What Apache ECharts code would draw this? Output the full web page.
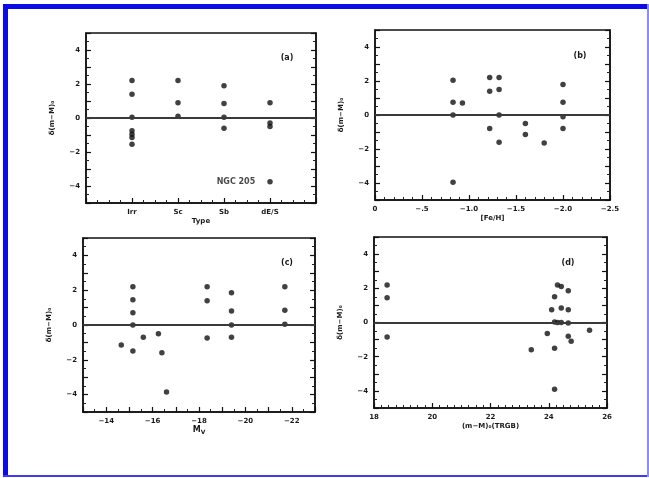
<!DOCTYPE html>
<html>
<head>
<meta charset="utf-8">
<script src="https://cdn.jsdelivr.net/npm/echarts@6/dist/echarts.min.js"></script>
<style>
  html, body { margin: 0; padding: 0; background: #fff; }
  #wrap { position: relative; width: 649px; height: 478px; overflow: hidden; }
  #chart { position: absolute; left: 0; top: 0; width: 649px; height: 478px; }
  .edge { position: absolute; background: #0b0be8; pointer-events: none; }
</style>
</head>
<body>
<div id="wrap">
  <div id="chart"></div>
  <div class="edge" style="left:3px;top:4px;width:646px;height:5px;"></div>
  <div class="edge" style="left:3px;top:4px;width:5px;height:473px;"></div>
  <div class="edge" style="left:3px;top:475px;width:646px;height:2px;background:#3b3bf0;"></div>
  <div class="edge" style="left:647px;top:4px;width:2px;height:473px;background:#8c8cf5;"></div>
</div>
<script>
// Residual distance modulus versus galaxy properties, four panels

// shared y axis labels (only even values carry a label)
const yTicks = [4, 2, 0, -2, -4];
const yTickLabels = ['4', '2', '0', '−2', '−4'];

// (a) morphological type
const typeNames = ['Irr', 'Sc', 'Sb', 'dE/S'];
const aType = [1, 1, 1, 1, 1, 1, 1, 2, 2, 2, 3, 3, 3, 3, 4, 4, 4, 4];
const aDm   = [2.2, 1.4, 0.05, -0.75, -0.95, -1.15, -1.55, 2.2, 0.9, 0.1, 1.9, 0.85, 0.05, -0.6, 0.9, -0.3, -0.5, -3.75];
const aNote = ['', '', '', '', '', '', '', '', '', '', '', '', '', '', '', '', '', 'NGC 205'];

// (b) metallicity [Fe/H]
const bFeH = [-0.83, -0.83, -0.83, -0.83, -0.93, -1.22, -1.22, -1.22, -1.32, -1.32, -1.32, -1.32, -1.6, -1.6, -1.8, -2.0, -2.0, -2.0, -2.0];
const bDm  = [2.05, 0.75, 0, -3.95, 0.7, 2.2, 1.4, -0.8, 2.2, 1.5, 0, -1.6, -0.5, -1.15, -1.65, 1.8, 0.75, -0.1, -0.8];
const bTicks = [0, -0.5, -1.0, -1.5, -2.0, -2.5];
const bTickLabels = ['0', '−.5', '−1.0', '−1.5', '−2.0', '−2.5'];

// (c) absolute magnitude M_V
const cMv = [-14.65, -15.15, -15.15, -15.15, -15.15, -15.15, -15.6, -16.25, -16.4, -16.6, -18.35, -18.35, -18.35, -19.4, -19.4, -19.4, -19.4, -21.7, -21.7, -21.7];
const cDm = [-1.15, 2.2, 1.45, 0.7, 0, -1.5, -0.7, -0.5, -1.6, -3.85, 2.2, 1.4, -0.75, 1.85, 0.8, 0, -0.7, 2.2, 0.85, 0.05];
const cTicks = [-14, -16, -18, -20, -22];
const cTickLabels = ['−14', '−16', '−18', '−20', '−22'];

// (d) TRGB distance modulus
const dMod = [18.45, 18.45, 18.45, 23.4, 23.95, 24.1, 24.2, 24.2, 24.2, 24.2, 24.3, 24.3, 24.43, 24.43, 24.43, 24.67, 24.67, 24.67, 24.67, 24.77, 25.4];
const dDm  = [2.2, 1.45, -0.85, -1.6, -0.65, 0.75, -1.5, 1.5, -3.9, 0.03, 2.2, 0, 2.1, 0.85, 0, 1.85, 0.75, -0.03, -0.8, -1.1, -0.45];
const dTicks = [18, 20, 22, 24, 26];
const dTickLabels = ['18', '20', '22', '24', '26'];

const yName = 'δ(m−M)₀';
const font = 'DejaVu Sans';
const ink = '#1a1a1a';

const panels = [
  { grid: { left: 86, top: 33, width: 230, height: 170 },
    x: { min: 0, max: 5, interval: 1, minorSplit: 4, inverse: false, ticks: [1, 2, 3, 4], labels: typeNames, name: 'Type' },
    tag: '(a)', tagPos: [287, 58],
    xs: aType, ys: aDm, notes: aNote },
  { grid: { left: 375, top: 30, width: 235, height: 170 },
    x: { min: -2.5, max: 0, interval: 0.5, minorSplit: 5, inverse: true, ticks: bTicks, labels: bTickLabels, name: '[Fe/H]' },
    tag: '(b)', tagPos: [580, 56],
    xs: bFeH, ys: bDm },
  { grid: { left: 83, top: 238, width: 232, height: 174 },
    x: { min: -23, max: -13, interval: 1, minorSplit: 2, inverse: true, ticks: cTicks, labels: cTickLabels, name: '{m|M}{s|V}' },
    tag: '(c)', tagPos: [287, 263],
    xs: cMv, ys: cDm },
  { grid: { left: 374, top: 237, width: 233, height: 171 },
    x: { min: 18, max: 26, interval: 2, minorSplit: 8, inverse: false, ticks: dTicks, labels: dTickLabels, name: '(m−M)₀(TRGB)' },
    tag: '(d)', tagPos: [568, 263],
    xs: dMod, ys: dDm }
];

const labelFor = (ticks, labels) => v => {
  const k = ticks.findIndex(t => Math.abs(t - v) < 1e-6);
  return k >= 0 ? labels[k] : '';
};
const lineOpt = () => ({ show: true, onZero: false, lineStyle: { color: '#111', width: 1.5 } });
const tickOpt = () => ({ show: true, inside: true, length: 5, lineStyle: { color: '#111', width: 1.2 } });
const minorOpt = n => ({ show: true, splitNumber: n, length: 3, lineStyle: { color: '#222', width: 1 } });
const labelStyle = () => ({ fontSize: 7, fontWeight: 'bold', fontFamily: font, color: ink });

const grids = [], xAxes = [], yAxes = [], series = [], graphics = [];

panels.forEach((p, gi) => {
  // the grid border closes the frame on the top edge
  grids.push(Object.assign({ show: true, borderColor: '#111', borderWidth: 1.5,
                             backgroundColor: 'transparent' }, p.grid));

  const xi = xAxes.length;
  xAxes.push({
    gridIndex: gi, type: 'value',
    min: p.x.min, max: p.x.max, interval: p.x.interval, inverse: p.x.inverse,
    splitLine: { show: false },
    axisLine: lineOpt(), axisTick: tickOpt(), minorTick: minorOpt(p.x.minorSplit),
    axisLabel: Object.assign(labelStyle(), { margin: 6, formatter: labelFor(p.x.ticks, p.x.labels) })
  });

  const yBase = () => ({ gridIndex: gi, type: 'value', min: -5, max: 5, interval: 1, splitLine: { show: false },
                         axisLine: lineOpt(), axisTick: tickOpt(), minorTick: minorOpt(2) });
  const yi = yAxes.length;
  yAxes.push(Object.assign(yBase(), {
    position: 'left',
    axisLabel: Object.assign(labelStyle(), { show: true, margin: 6, formatter: labelFor(yTicks, yTickLabels) }),
    name: yName, nameLocation: 'middle', nameRotate: 90, nameGap: 30,
    nameTextStyle: labelStyle()
  }));
  yAxes.push(Object.assign(yBase(), { position: 'right', axisLabel: { show: false } }));

  const data = p.xs.map((x, i) => {
    const item = { value: [x, p.ys[i]] };
    if (p.notes && p.notes[i]) {
      item.label = { show: true, formatter: p.notes[i], position: 'left', distance: 12,
                     fontSize: 8, fontWeight: 'bold', fontFamily: font, color: ink };
    }
    return item;
  });

  series.push({
    type: 'scatter', xAxisIndex: xi, yAxisIndex: yi,
    data, symbol: 'circle', symbolSize: 5.5,
    itemStyle: { color: '#111' },
    silent: true,
    markLine: {
      silent: true, symbol: ['none', 'none'], label: { show: false },
      lineStyle: { color: '#3a3a3a', width: 1.8, type: 'solid' },
      data: [{ yAxis: 0 }]
    }
  });

  // x axis title below the tick labels
  graphics.push({
    type: 'text', x: p.grid.left + p.grid.width / 2, y: p.grid.top + p.grid.height + 18,
    style: { text: p.x.name, fontSize: 7, fontWeight: 'bold', fontFamily: font, fill: ink,
             align: 'center', verticalAlign: 'middle',
             rich: { m: { fontSize: 8, fontWeight: 'bold', fontFamily: font, fill: ink },
                     s: { fontSize: 6, fontWeight: 'bold', fontFamily: font, fill: ink, padding: [5, 0, 0, 0] } } }
  });

  // panel tag in the upper right corner
  graphics.push({
    type: 'text', x: p.tagPos[0], y: p.tagPos[1],
    style: { text: p.tag, fontSize: 8, fontWeight: 'bold', fontFamily: font, fill: ink, align: 'center', verticalAlign: 'middle' }
  });
});

const chart = echarts.init(document.getElementById('chart'), null, { renderer: 'canvas' });
chart.setOption({
  backgroundColor: '#ffffff',
  animation: false,
  grid: grids,
  xAxis: xAxes,
  yAxis: yAxes,
  series,
  graphic: graphics
});
</script>
</body>
</html>
